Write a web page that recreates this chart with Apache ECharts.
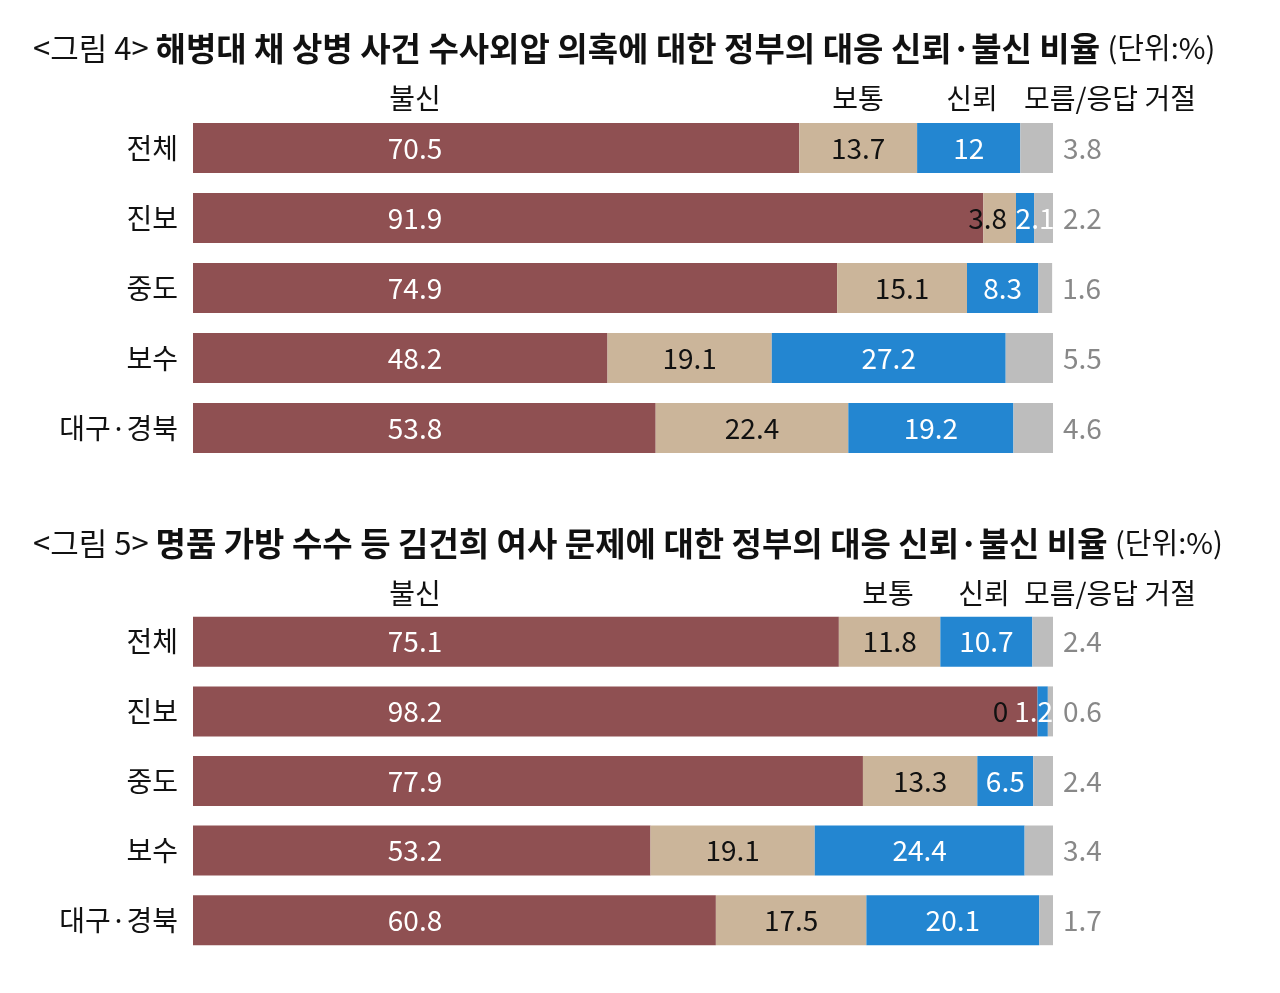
<!DOCTYPE html>
<html><head><meta charset="utf-8">
<script src="https://cdn.jsdelivr.net/npm/echarts@6/dist/echarts.min.js"></script>
<style>html,body{margin:0;padding:0;background:#fff}#c{width:1280px;height:993px}</style>
</head><body><div id="c"></div>
<script>
const categories = ['전체', '진보', '중도', '보수', '대구·경북'];
const seriesNames = ['불신', '보통', '신뢰', '모름/응답 거절'];
const title4Prefix = '<그림 4>';
const title4Main = '해병대 채 상병 사건 수사외압 의혹에 대한 정부의 대응 신뢰·불신 비율';
const title5Prefix = '<그림 5>';
const title5Main = '명품 가방 수수 등 김건희 여사 문제에 대한 정부의 대응 신뢰·불신 비율';
const unitText = '(단위:%)';

const fig4Distrust = [70.5, 91.9, 74.9, 48.2, 53.8];
const fig4Neutral  = [13.7, 3.8, 15.1, 19.1, 22.4];
const fig4Trust    = [12, 2.1, 8.3, 27.2, 19.2];
const fig4Unknown  = [3.8, 2.2, 1.6, 5.5, 4.6];

const fig5Distrust = [75.1, 98.2, 77.9, 53.2, 60.8];
const fig5Neutral  = [11.8, 0, 13.3, 19.1, 17.5];
const fig5Trust    = [10.7, 1.2, 6.5, 24.4, 20.1];
const fig5Unknown  = [2.4, 0.6, 2.4, 3.4, 1.7];

const FONT = '"Noto Sans CJK KR", "Noto Sans", sans-serif';
const colors = ['#8f5052', '#cbb59a', '#2386d1', '#bdbdbd'];
const labelColors = ['#ffffff', '#111111', '#ffffff', '#888888'];
// label nudges for crowded small segments: [figure][series][row] -> x offset
const nudges = {
  0: { 1: { 1: -12 }, 2: { 1: 10 } },
  1: { 1: { 1: -37 }, 2: { 1: -9 } }
};

const chart = echarts.init(document.getElementById('c'));

function buildSeries(fig, arrays) {
  return arrays.map((arr, si) => ({
    name: seriesNames[si],
    type: 'bar',
    stack: 'fig' + fig,
    xAxisIndex: fig,
    yAxisIndex: fig,
    barWidth: 50,
    itemStyle: { color: colors[si] },
    emphasis: { disabled: true },
    label: {
      show: true,
      fontFamily: FONT,
      fontSize: 28,
      color: labelColors[si],
      position: si === 0 ? [222, '50%'] : (si === 3 ? 'right' : 'inside'),
      align: si === 3 ? 'left' : 'center',
      verticalAlign: 'middle',
      distance: 10,
      formatter: p => String(p.value)
    },
    data: arr.map((v, ri) => {
      const dx = nudges[fig] && nudges[fig][si] && nudges[fig][si][ri];
      return dx ? { value: v, label: { offset: [dx, 0] } } : { value: v };
    })
  }));
}

const headerPos = [
  { y: 98, xs: [415, 858, 972, 1110] },
  { y: 593, xs: [415, 888, 984, 1110] }
];
const graphics = [];
headerPos.forEach(h => {
  seriesNames.forEach((n, i) => {
    graphics.push({
      type: 'text', x: h.xs[i], y: h.y,
      style: { text: n, font: '28px ' + FONT, fill: '#111', textAlign: 'center', textVerticalAlign: 'middle' }
    });
  });
});
function titleGraphic(prefix, main, y) {
  return {
    type: 'text', x: 33, y: y,
    style: {
      text: '{a|' + prefix + ' }{b|' + main + ' }{c|' + unitText + '}',
      textVerticalAlign: 'middle',
      rich: {
        a: { font: '31px ' + FONT, fill: '#111' },
        b: { font: 'bold 33px ' + FONT, fill: '#111' },
        c: { font: '29px ' + FONT, fill: '#111' }
      }
    }
  };
}
graphics.push(titleGraphic(title4Prefix, title4Main, 48));
graphics.push(titleGraphic(title5Prefix, title5Main, 543));

const grids = [
  { left: 193, width: 860, top: 113, height: 350 },
  { left: 193, width: 860, top: 607, height: 348 }
];

chart.setOption({
  animation: false,
  grid: grids,
  xAxis: grids.map((g, i) => ({
    type: 'value', gridIndex: i, min: 0, max: 100, show: false
  })),
  yAxis: grids.map((g, i) => ({
    type: 'category', gridIndex: i, data: categories, inverse: true,
    axisLine: { show: false }, axisTick: { show: false }, splitLine: { show: false },
    axisLabel: { fontFamily: FONT, fontSize: 28, color: '#111', margin: 15 }
  })),
  series: [
    ...buildSeries(0, [fig4Distrust, fig4Neutral, fig4Trust, fig4Unknown]),
    ...buildSeries(1, [fig5Distrust, fig5Neutral, fig5Trust, fig5Unknown])
  ],
  graphic: graphics
});
</script></body></html>
